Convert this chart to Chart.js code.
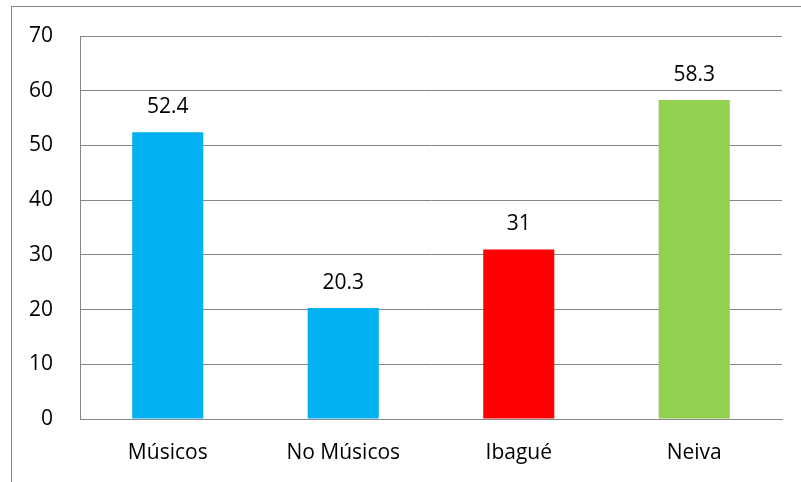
<!DOCTYPE html>
<html>
<head>
<meta charset="utf-8">
<script src="https://cdn.jsdelivr.net/npm/chart.js@4/dist/chart.umd.min.js"></script>
<style>
  html, body { margin: 0; padding: 0; background: #fff; }
  #wrap { width: 801px; height: 482px; }
</style>
</head>
<body>
<div id="wrap"><canvas id="chart" width="801" height="482"></canvas></div>
<script>
// datos del gráfico
var categories = ["Músicos", "No Músicos", "Ibagué", "Neiva"];
var values = [52.4, 20.3, 31, 58.3];
var barColors = ["#00B0F0", "#00B0F0", "#FF0000", "#92D050"];
var yTicks = [0, 10, 20, 30, 40, 50, 60, 70];

var fontFamily = "'Open Sans', 'Noto Sans', sans-serif";

// marco exterior del gráfico
var frame = {
	id: "frame",
	beforeDraw: function(chart) {
		var ctx = chart.ctx;
		ctx.save();
		ctx.strokeStyle = "#868686";
		ctx.lineWidth = 1;
		ctx.strokeRect(11.5, 6.5, 820, 500);
		ctx.restore();
	}
};

// etiquetas de valor encima de las barras
var valueLabels = {
	id: "valueLabels",
	afterDatasetsDraw: function(chart) {
		var ctx = chart.ctx;
		var meta = chart.getDatasetMeta(0);
		ctx.save();
		ctx.font = "21px " + fontFamily;
		ctx.fillStyle = "#000";
		ctx.textAlign = "center";
		ctx.textBaseline = "alphabetic";
		meta.data.forEach(function(bar, i) {
			ctx.fillText(String(values[i]), bar.x, bar.y - 19);
		});
		ctx.restore();
	}
};

new Chart(document.getElementById("chart").getContext("2d"), {
	type: "bar",
	data: {
		labels: categories,
		datasets: [{
			data: values,
			backgroundColor: barColors,
			borderWidth: 0,
			barPercentage: 0.405,
			categoryPercentage: 1.0
		}]
	},
	options: {
		responsive: false,
		animation: false,
		layout: { padding: { top: 36, right: 19, left: 0, bottom: 0 } },
		plugins: {
			legend: { display: false },
			tooltip: { enabled: false }
		},
		scales: {
			x: {
				grid: { display: false, drawTicks: false },
				border: { display: true, color: "#868686", width: 1 },
				ticks: {
					color: "#000",
					padding: 21,
					font: { size: 21, family: fontFamily }
				},
				afterFit: function(scale) { scale.height = 63; }
			},
			y: {
				min: 0,
				max: 70,
				afterBuildTicks: function(scale) {
					scale.ticks = yTicks.map(function(v) { return { value: v }; });
				},
				grid: { color: "#868686", lineWidth: 1, drawTicks: false },
				border: { display: true, color: "#868686", width: 1 },
				ticks: {
					color: "#000",
					padding: 27,
					font: { size: 21, family: fontFamily }
				},
				afterFit: function(scale) {
					scale.width = 80;
					scale.paddingTop = 0;
					scale.paddingBottom = 0;
				}
			}
		}
	},
	plugins: [frame, valueLabels]
});
</script>
</body>
</html>
